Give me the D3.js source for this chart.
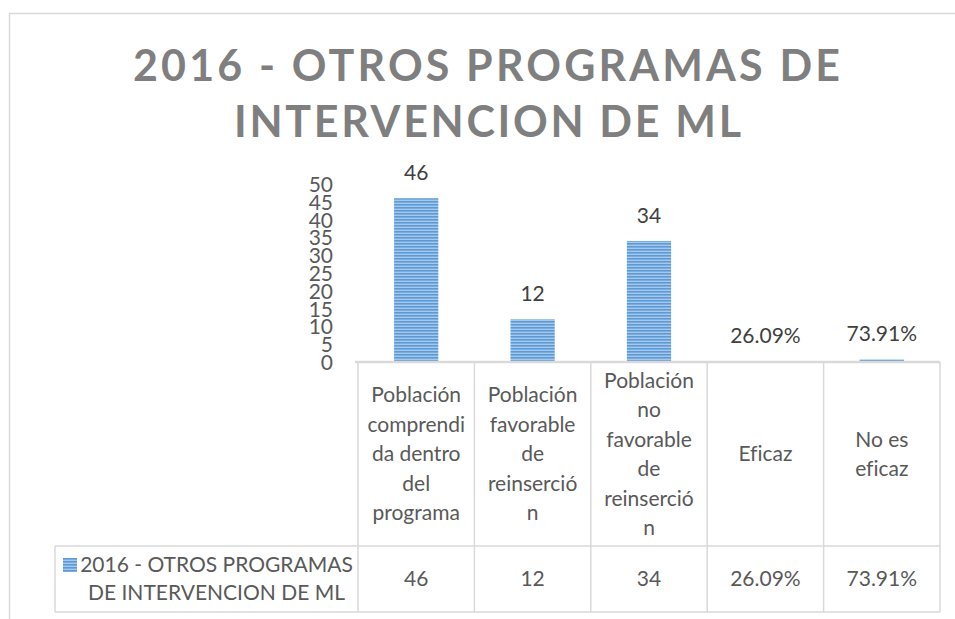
<!DOCTYPE html>
<html>
<head>
<meta charset="utf-8">
<script src="https://cdn.jsdelivr.net/npm/d3@7"></script>
<style>
  html, body { margin: 0; padding: 0; background: #fff; }
  svg { display: block; }
  text { font-variant-ligatures: none; font-feature-settings: "liga" 0; }
</style>
</head>
<body>
<svg id="chart" width="955" height="619"></svg>
<script>
// ---- data ----
const titleLines = ["2016 - OTROS PROGRAMAS DE", "INTERVENCION DE ML"];
const seriesName = "2016 - OTROS PROGRAMAS DE INTERVENCION DE ML";
const seriesLegendLines = ["2016 - OTROS PROGRAMAS", "DE INTERVENCION DE ML"];
const categories = ["pob", "fav", "nofav", "eficaz", "noeficaz"];
const categoryLabels = [
  ["Población", "comprendi", "da dentro", "del", "programa"],
  ["Población", "favorable", "de", "reinserció", "n"],
  ["Población", "no", "favorable", "de", "reinserció", "n"],
  ["Eficaz"],
  ["No es", "eficaz"]
];
const values = [46, 12, 34, 0.2609, 0.7391];
const valueLabels = ["46", "12", "34", "26.09%", "73.91%"];
const yTicks = [0, 5, 10, 15, 20, 25, 30, 35, 40, 45, 50];

// ---- layout ----
const svg = d3.select("#chart");
const font = "Lato, 'Open Sans', sans-serif";
const textColor = "#595959";
const lineColor = "#d9d9d9";
const plotLeft = 358, plotRight = 940, plotTop = 184, plotBottom = 362;
const headerBottom = 546, tableBottom = 612, legendLeft = 55;

// outer chart border
svg.append("rect").attr("x", 9.5).attr("y", 13.5).attr("width", 960).attr("height", 620)
  .attr("fill", "none").attr("stroke", lineColor).attr("stroke-width", 1.5);

// pattern for bars
const defs = svg.append("defs");
const pat = defs.append("pattern").attr("id", "stripes").attr("patternUnits", "userSpaceOnUse")
  .attr("width", 10).attr("height", 3);
pat.append("rect").attr("width", 10).attr("height", 3).attr("fill", "#a7c8ec");
pat.append("rect").attr("width", 10).attr("height", 1.6).attr("fill", "#5b9bd5");

// title
const titleX = [133, 234], titleW = [707, 507], titleY = [81, 137];
titleLines.forEach((t, i) => {
  svg.append("text").attr("x", titleX[i]).attr("y", titleY[i])
    .attr("textLength", titleW[i]).attr("lengthAdjust", "spacing")
    .attr("font-family", font).attr("font-weight", "bold").attr("font-size", 43)
    .attr("fill", "#7f7f7f").text(t);
});

// scales
const x = d3.scaleBand().domain(categories).range([plotLeft, plotRight])
  .paddingInner(0.62).paddingOuter(0.31);
const y = d3.scaleLinear().domain([0, 50]).range([plotBottom, plotTop]);

// y axis labels
const yAxis = d3.axisLeft(y).tickValues(yTicks).tickSize(0).tickPadding(0);
const yg = svg.append("g").attr("transform", `translate(333,0)`).call(yAxis);
yg.select(".domain").remove();
yg.selectAll("text").attr("font-family", font).attr("font-size", 21)
  .attr("fill", textColor).attr("dy", "0.36em");

// bars
svg.append("g").selectAll("rect").data(values).join("rect")
  .attr("x", (d, i) => x(categories[i]))
  .attr("y", d => y(d))
  .attr("width", x.bandwidth())
  .attr("height", d => plotBottom - 1 - y(d) > 0 ? plotBottom - 1 - y(d) : 0)
  .attr("fill", "url(#stripes)");

// data labels
svg.append("g").selectAll("text").data(values).join("text")
  .attr("x", (d, i) => x(categories[i]) + x.bandwidth() / 2)
  .attr("y", d => y(d) - 18)
  .attr("text-anchor", "middle")
  .attr("font-family", font).attr("font-size", 21).attr("fill", "#404040")
  .text((d, i) => valueLabels[i]);

// table grid
const grid = svg.append("g").attr("stroke", lineColor).attr("fill", "none");
const colEdges = [plotLeft].concat(categories.map((c, i) => plotLeft + x.step() * (i + 1)));
grid.append("line").attr("x1", plotLeft - 3).attr("x2", plotRight).attr("y1", plotBottom).attr("y2", plotBottom)
  .attr("stroke-width", 2.5);
colEdges.forEach(cx => {
  grid.append("line").attr("x1", cx).attr("x2", cx).attr("y1", plotBottom).attr("y2", tableBottom).attr("stroke-width", 1.5);
});
grid.append("line").attr("x1", legendLeft).attr("x2", plotRight).attr("y1", headerBottom).attr("y2", headerBottom).attr("stroke-width", 1.5);
grid.append("line").attr("x1", legendLeft).attr("x2", plotRight).attr("y1", tableBottom).attr("y2", tableBottom).attr("stroke-width", 1.5);
grid.append("line").attr("x1", legendLeft).attr("x2", legendLeft).attr("y1", headerBottom).attr("y2", tableBottom).attr("stroke-width", 1.5);

// header labels
const lineH = 29.5;
const headerMid = (plotBottom + headerBottom) / 2;
categories.forEach((c, i) => {
  const cx = x(c) + x.bandwidth() / 2;
  const lines = categoryLabels[i];
  const t = svg.append("text").attr("text-anchor", "middle")
    .attr("font-family", font).attr("font-size", 21).attr("fill", textColor);
  lines.forEach((ln, j) => {
    t.append("tspan").attr("x", cx)
      .attr("y", headerMid + (j - (lines.length - 1) / 2) * lineH)
      .attr("dy", "0.35em").text(ln);
  });
});

// values row
const rowMid = (headerBottom + tableBottom) / 2;
svg.append("g").selectAll("text").data(valueLabels).join("text")
  .attr("x", (d, i) => x(categories[i]) + x.bandwidth() / 2)
  .attr("y", rowMid).attr("dy", "0.35em")
  .attr("text-anchor", "middle")
  .attr("font-family", font).attr("font-size", 21).attr("fill", textColor)
  .text(d => d);

// legend key + series name
svg.append("rect").attr("x", 63).attr("y", 558).attr("width", 14).attr("height", 14)
  .attr("fill", "url(#stripes)");
const lt = svg.append("text").attr("text-anchor", "middle")
  .attr("font-family", font).attr("font-size", 21).attr("fill", textColor);
seriesLegendLines.forEach((ln, j) => {
  lt.append("tspan").attr("x", 216.5).attr("y", 565 + j * 28).attr("dy", "0.35em").text(ln);
});
</script>
</body>
</html>
